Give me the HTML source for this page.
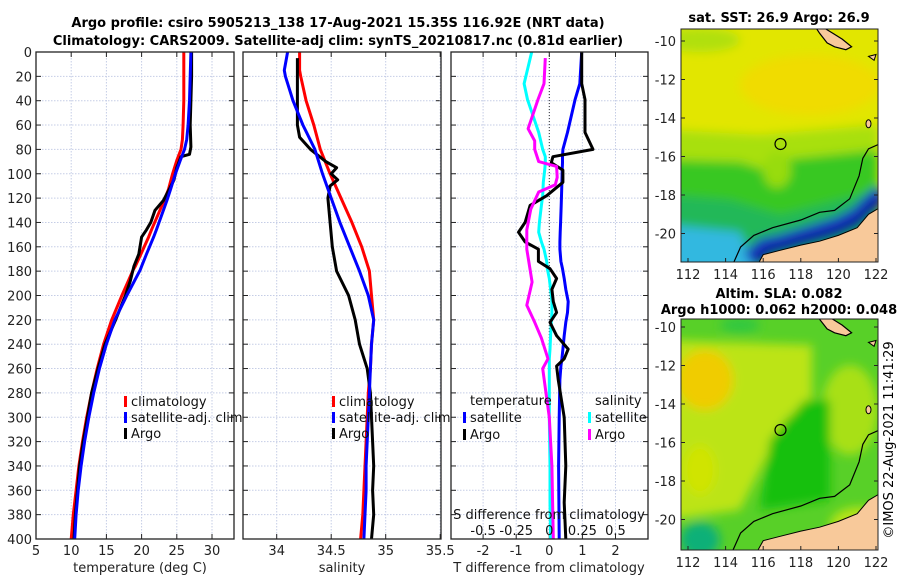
<!DOCTYPE html>
<html><head><meta charset="utf-8"><style>
html,body{margin:0;padding:0;background:#fff;width:900px;height:580px;overflow:hidden}
svg{display:block;font-family:"DejaVu Sans","Liberation Sans",sans-serif}
</style></head><body>
<svg id="fig" width="900" height="580" viewBox="0 0 900 580">
<defs>
<filter id="blur" x="-10%" y="-10%" width="120%" height="120%"><feGaussianBlur stdDeviation="5"/></filter>
<clipPath id="clipM1"><rect x="681" y="29" width="197" height="233"/></clipPath>
<clipPath id="clipM2"><rect x="681" y="319" width="197" height="231"/></clipPath>
<clipPath id="clipP1"><rect x="36" y="52" width="198" height="487"/></clipPath>
<clipPath id="clipP2"><rect x="243" y="52" width="198" height="487"/></clipPath>
<clipPath id="clipP3"><rect x="451" y="52" width="197" height="487"/></clipPath>
</defs>
<text x="338" y="27" text-anchor="middle" font-size="13" font-weight="bold">Argo profile: csiro 5905213_138 17-Aug-2021 15.35S 116.92E (NRT data)</text>
<text x="338" y="45" text-anchor="middle" font-size="13" font-weight="bold">Climatology: CARS2009. Satellite-adj clim: synTS_20210817.nc (0.81d earlier)</text>
<g id="panels"></g>
<g id="maps"></g>
<text transform="translate(893,440) rotate(-90)" text-anchor="middle" font-size="13">©IMOS 22-Aug-2021 11:41:29</text>
</svg>
<script>
// ---- data ----
const depthT = [0,20,40,60,72,80,89,100,113,122,130,146,152,166,176,179,200,220,240,260,280,300,320,340,360,380,400];
const tempClim = [26.0,26.0,26.0,25.9,25.8,25.6,25.0,24.4,23.8,23.2,22.6,21.4,21.0,19.9,19.1,18.8,17.2,15.75,14.6,13.7,12.9,12.2,11.6,11.1,10.7,10.3,10.0];
const tempSat = [27.0,26.9,26.8,26.6,26.4,26.1,25.5,24.8,24.1,23.6,23.1,22.1,21.7,20.7,20.0,19.8,17.9,16.2,15.0,14.0,13.2,12.5,11.9,11.4,11.0,10.7,10.5];
const depthA = [0,20,40,60,78,84,86,95,105,113,122,130,140,146,152,166,176,188,200,210,220,240,260,280,300,320,340,360,380,400];
const tempArgo = [27.1,27.1,27.0,26.9,27.0,26.8,25.6,25.0,24.6,23.9,23.1,21.9,21.3,20.7,20.0,19.6,18.9,18.4,17.7,17.0,16.3,14.8,13.8,12.9,12.3,11.7,11.2,10.9,10.6,10.4];
const depthS = [0,15,20,40,60,80,100,120,140,160,180,200,220,240,260,280,300,320,340,360,380,400];
const salClim = [34.21,34.21,34.22,34.27,34.34,34.40,34.49,34.59,34.69,34.78,34.85,34.87,34.89,34.87,34.86,34.84,34.83,34.82,34.81,34.80,34.79,34.77];
const salSat = [34.10,34.07,34.08,34.15,34.24,34.35,34.42,34.50,34.58,34.67,34.76,34.84,34.89,34.87,34.86,34.85,34.84,34.83,34.82,34.82,34.81,34.80];
const depthSA = [5,20,40,60,70,80,90,95,100,105,110,120,140,160,180,200,220,240,260,280,300,320,340,360,380,400];
const salArgo = [34.19,34.19,34.19,34.19,34.21,34.31,34.45,34.55,34.50,34.56,34.49,34.47,34.49,34.51,34.55,34.66,34.72,34.76,34.83,34.86,34.87,34.88,34.89,34.88,34.89,34.87];
const depthD = [0,26,39,66,80,86,91,97,107,118,126,140,148,156,162,172,178,186,195,205,214,222,233,244,252,258,269,300,340,370,400];
const dTsat = [0.98,0.92,0.78,0.55,0.41,0.40,0.40,0.39,0.38,0.37,0.36,0.34,0.33,0.32,0.32,0.35,0.40,0.45,0.50,0.57,0.55,0.50,0.45,0.41,0.38,0.35,0.32,0.30,0.28,0.29,0.30];
const dTargo = [0.98,0.98,1.08,1.08,1.32,0.11,0.06,0.41,0.41,-0.08,-0.58,-0.73,-0.93,-0.73,-0.33,-0.33,0.02,0.22,0.08,0.12,0.22,0.02,0.22,0.57,0.45,0.22,0.27,0.45,0.5,0.45,0.5];
const dSsat = [-0.133,-0.19,-0.165,-0.08,-0.05,-0.03,-0.03,-0.035,-0.045,-0.05,-0.06,-0.075,-0.08,-0.06,-0.04,-0.02,-0.015,0.0,0.01,0.02,0.02,0.015,0.01,0.005,0.0,0.0,0.0,0.0,0.005,0.005,0.01];
const depthDS = [5,26,39,63,73,80,90,94,103,109,115,129,146,162,189,208,222,235,252,260,300,340,370,400];
const dSargo = [-0.03,-0.04,-0.085,-0.16,-0.11,-0.11,-0.08,0.055,0.06,0.045,-0.08,-0.14,-0.17,-0.17,-0.13,-0.17,-0.11,-0.06,-0.01,-0.05,0.0,0.02,0.025,0.03];
const depthTicks = [0,20,40,60,80,100,120,140,160,180,200,220,240,260,280,300,320,340,360,380,400];
const tTicks = [5,10,15,20,25,30];
const sTicks = [34,34.5,35,35.5];
const sTickLabels = ['34','34.5','35','35.5'];
const dTTicks = [-2,-1,0,1,2];
const dSTicks = [-0.5,-0.25,0,0.25,0.5];
const dSTickLabels = ['-0.5','-0.25','0','0.25','0.5'];

const NS='http://www.w3.org/2000/svg';
const P=document.getElementById('panels');
function mk(tag,attrs,parent,text){const e=document.createElementNS(NS,tag);for(const k in attrs)e.setAttribute(k,attrs[k]);if(text!==undefined)e.textContent=text;(parent||P).appendChild(e);return e;}
const y0=52,y1=539;
const yD=d=>y0+(d/400)*(y1-y0);
const xT=t=>36+(t-5)*7.04;
const xS=s=>276.7+(s-34)*109;
const xDT=v=>549.3+v*33.1;
const xDS=v=>549.3+v*132.4;

function panel(name,x0,x1,xTicks,xf,labels,showDepthLabels){
  const g=mk('g',{});
  
  
  depthTicks.forEach(d=>{const l=mk('line',{x1:x0,x2:x1,y1:yD(d),y2:yD(d),stroke:'#c5cde6','stroke-width':1,'stroke-dasharray':'1.5,1.5'},g);
    
    mk('line',{x1:x0,x2:x0+5,y1:yD(d),y2:yD(d),stroke:'#222'},g);mk('line',{x1:x1-5,x2:x1,y1:yD(d),y2:yD(d),stroke:'#222'},g);
    if(showDepthLabels){const t=mk('text',{x:x0-4,y:yD(d)+5,'text-anchor':'end','font-size':13,fill:'#222'},g,String(d));
      }
  });
  xTicks.forEach((v,i)=>{const x=xf(v);
    const l=mk('line',{x1:x,x2:x,y1:y0,y2:y1,stroke:'#c5cde6','stroke-width':1,'stroke-dasharray':'1.5,1.5'},g);
    
    mk('line',{x1:x,x2:x,y1:y1-5,y2:y1,stroke:'#222'},g);mk('line',{x1:x,x2:x,y1:y0,y2:y0+5,stroke:'#222'},g);
    const t=mk('text',{x:x,y:555,'text-anchor':'middle','font-size':13,fill:'#222'},g,labels[i]);
    
  });
  return g;
}
function line(g,xs,ds,xf,color,name,clip){
  const pts=xs.map((v,i)=>xf(v).toFixed(1)+','+yD(ds[i]).toFixed(1)).join(' ');
  const p=mk('polyline',{points:pts,fill:'none',stroke:color,'stroke-width':3,'stroke-linejoin':'round','clip-path':'url(#'+clip+')'},g);
  
  
}
function frame(g,x0,x1){mk('rect',{x:x0,y:y0,width:x1-x0,height:y1-y0,fill:'none',stroke:'#222','stroke-width':1.3},g);}
function legend(g,x,y,color,label,name){
  mk('rect',{x:x-7,y:y-9,width:3,height:11,fill:color},g);
  const t=mk('text',{x:x,y:y+1,'font-size':13,fill:'#111'},g,label);
  
  
}
const g1=panel('temperature-panel',36,234,tTicks,xT,tTicks.map(String),true);
mk('text',{x:140,y:572,'text-anchor':'middle','font-size':13,fill:'#222'},g1,'temperature (deg C)');
line(g1,tempClim,depthT,xT,'#ff0000','temp-climatology-line','clipP1');
line(g1,tempArgo,depthA,xT,'#000000','temp-argo-line','clipP1');
line(g1,tempSat,depthT,xT,'#0000ff','temp-satellite-line','clipP1');
legend(g1,131,405,'#ff0000','climatology','legend-climatology');
legend(g1,131,421,'#0000ff','satellite-adj. clim','legend-satellite');
legend(g1,131,437,'#000','Argo','legend-argo');
frame(g1,36,234);
const g2=panel('salinity-panel',243,441,sTicks,xS,sTickLabels,false);
mk('text',{x:342,y:572,'text-anchor':'middle','font-size':13,fill:'#222'},g2,'salinity');
line(g2,salClim,depthS,xS,'#ff0000','sal-climatology-line','clipP2');
line(g2,salArgo,depthSA,xS,'#000000','sal-argo-line','clipP2');
line(g2,salSat,depthS,xS,'#0000ff','sal-satellite-line','clipP2');
legend(g2,339,405,'#ff0000','climatology','legend-climatology-2');
legend(g2,339,421,'#0000ff','satellite-adj. clim','legend-satellite-2');
legend(g2,339,437,'#000','Argo','legend-argo-2');
frame(g2,243,441);
const g3=panel('difference-panel',451,648,dTTicks,xDT,dTTicks.map(String),false);
mk('text',{x:549,y:572,'text-anchor':'middle','font-size':13,fill:'#222'},g3,'T difference from climatology');
mk('line',{x1:549.3,x2:549.3,y1:y0,y2:y1,stroke:'#333','stroke-dasharray':'1,2'},g3);
line(g3,dSsat,depthD,xDS,'#00ffff','sdiff-satellite-line','clipP3');
line(g3,dTsat,depthD,xDT,'#0000ff','tdiff-satellite-line','clipP3');
line(g3,dTargo,depthD,xDT,'#000000','tdiff-argo-line','clipP3');
line(g3,dSargo,depthDS,xDS,'#ff00ff','sdiff-argo-line','clipP3');
mk('text',{x:470,y:405,'font-size':13,fill:'#111'},g3,'temperature');
legend(g3,470,421,'#0000ff','satellite','legend-t-satellite');
legend(g3,470,438,'#000','Argo','legend-t-argo');
mk('text',{x:595,y:405,'font-size':13,fill:'#111'},g3,'salinity');
legend(g3,595,421,'#00ffff','satellite','legend-s-satellite');
legend(g3,595,438,'#ff00ff','Argo','legend-s-argo');
mk('text',{x:549,y:519,'text-anchor':'middle','font-size':13,fill:'#111'},g3,'S difference from climatology');
dSTicks.forEach((v,i)=>{const t=mk('text',{x:xDS(v),y:535,'text-anchor':'middle','font-size':13,fill:'#111'},g3,dSTickLabels[i]);
  });
frame(g3,451,648);

// ---- maps ----
const M=document.getElementById('maps');
const lonTicks=[112,114,116,118,120,122];
const latTicks=[-10,-12,-14,-16,-18,-20];
const land=[[115.6,-21.8],[116.0,-21.1],[116.8,-20.9],[118,-20.6],[119,-20.4],[120,-20.1],[121,-19.7],[121.6,-19.0],[122.3,-18.6],[122.3,-21.8]];
const island=[[119.2,-9.3],[119.7,-9.6],[120.2,-9.9],[120.7,-10.3],[120.4,-10.45],[119.8,-10.3],[119.4,-10.1],[119.0,-9.6],[118.8,-9.3]];
const contour=[[114.3,-21.8],[114.8,-20.7],[115.5,-20.1],[116.5,-19.7],[118,-19.3],[119,-18.9],[119.8,-18.8],[120.6,-18.2],[121.1,-17.0],[121.3,-16.1],[121.6,-15.6],[122.3,-15.3]];
function map(name,top,bot,latTop,titleLines,blobs,base){
  const g=mk('g',{},M);
  
  
  const X=lon=>688+(lon-112)*18.8;
  const Y=lat=>latTop+(-10-lat)*19.25;
  const c=mk('g',{'clip-path':'url(#'+(name==='sst-map'?'clipM1':'clipM2')+')'},g);
  mk('rect',{x:681,y:top,width:197,height:bot-top,fill:base},c);
  const bg=mk('g',{filter:'url(#blur)'},c);
  blobs.forEach(b=>{ if(b.t==='p') mk('polygon',{points:b.pts.map(p=>p.join(',')).join(' '),fill:b.c},bg);
    else if(b.t==='l') mk('polyline',{points:b.pts.map(p=>X(p[0])+','+Y(p[1])).join(' '),fill:'none',stroke:b.c,'stroke-width':b.w},bg);
    else mk('ellipse',{cx:b.x,cy:b.y,rx:b.rx,ry:b.ry,fill:b.c},bg);});
  const pp=a=>a.map(p=>X(p[0]).toFixed(1)+','+Y(p[1]).toFixed(1)).join(' ');
  mk('polygon',{points:pp(land),fill:'#f8c99a',stroke:'#000','stroke-width':1},c);
  mk('polygon',{points:pp(island),fill:'#f8c99a',stroke:'#000','stroke-width':1.2},c);
  mk('polygon',{points:pp([[121.6,-10.8],[122.0,-10.7],[121.9,-11.0]]),fill:'#f8c99a',stroke:'#000'},c);
  mk('ellipse',{cx:X(121.6),cy:Y(-14.3),rx:2.5,ry:4,fill:'#f8c99a',stroke:'#000'},c);
  mk('polyline',{points:pp(contour),fill:'none',stroke:'#000','stroke-width':1.2},c);
  const circ=mk('circle',{cx:X(116.92),cy:Y(-15.35),r:5.5,fill:'none',stroke:'#000','stroke-width':1.2},g);
  
  
  mk('rect',{x:681,y:top,width:197,height:bot-top,fill:'none',stroke:'#222','stroke-width':1},g);
  lonTicks.forEach(l=>{mk('line',{x1:X(l),x2:X(l),y1:bot,y2:bot-4,stroke:'#222'},g);
    const t=mk('text',{x:X(l),y:bot+17,'text-anchor':'middle','font-size':13,fill:'#222'},g,String(l));
    });
  latTicks.forEach(l=>{mk('line',{x1:681,x2:685,y1:Y(l),y2:Y(l),stroke:'#222'},g);mk('line',{x1:874,x2:878,y1:Y(l),y2:Y(l),stroke:'#222'},g);
    const t=mk('text',{x:676,y:Y(l)+5,'text-anchor':'end','font-size':13,fill:'#222'},g,String(l));
    });
  titleLines.forEach((s,i)=>{const t=mk('text',{x:779,y:s[1],'text-anchor':'middle','font-size':13,'font-weight':'bold'},g,s[0]);
    });
}
map('sst-map',29,262,41,[['sat. SST: 26.9 Argo: 26.9',22]],[
  {t:'e',x:810,y:85,rx:70,ry:30,c:'#f0dc00'},
  {t:'e',x:700,y:40,rx:40,ry:12,c:'#b0e010'},
  {t:'p',pts:[[670,130],[760,135],[878,125],[878,280],[670,280]],c:'#a8e010'},
  {t:'p',pts:[[670,160],[740,162],[765,170],[780,160],[878,150],[878,280],[670,280]],c:'#38c820'},
  {t:'e',x:777,y:170,rx:14,ry:18,c:'#98dc10'},
  {t:'p',pts:[[670,195],[730,200],[780,215],[878,190],[878,280],[670,280]],c:'#20b858'},
  {t:'p',pts:[[670,225],[740,232],[760,280],[670,280]],c:'#30b8e0'},
  {t:'l',pts:[[115.2,-21.3],[116,-20.6],[117,-20.4],[118,-20.1],[119,-19.8],[120,-19.5],[121,-19.0],[121.8,-18.2],[122.3,-17.8]],c:'#1830c0',w:14},
  {t:'l',pts:[[115.6,-21.6],[116.3,-20.95],[117,-20.8],[118,-20.5],[119,-20.25],[120,-19.95],[121,-19.5],[121.8,-18.7],[122.3,-18.4]],c:'#000c80',w:8}
],'#e2e600');
map('sla-map',319,550,327,[['Altim. SLA: 0.082',298],['Argo h1000: 0.062 h2000: 0.048',314]],[
  {t:'p',pts:[[670,340],[812,345],[812,400],[785,420],[760,470],[740,510],[670,520]],c:'#bce418'},
  {t:'e',x:705,y:380,rx:28,ry:30,c:'#f0cc00'},
  {t:'e',x:700,y:470,rx:16,ry:25,c:'#d0e400'},
  {t:'e',x:850,y:410,rx:28,ry:45,c:'#a8e018'},
  {t:'p',pts:[[805,400],[830,400],[830,500],[760,510],[770,440]],c:'#18c010'},
  {t:'e',x:860,y:525,rx:30,ry:18,c:'#b8e418'},
  {t:'e',x:700,y:540,rx:20,ry:18,c:'#10b078'},
  {t:'e',x:740,y:325,rx:20,ry:8,c:'#30c840'}
],'#58d028');
</script>
</body></html>
